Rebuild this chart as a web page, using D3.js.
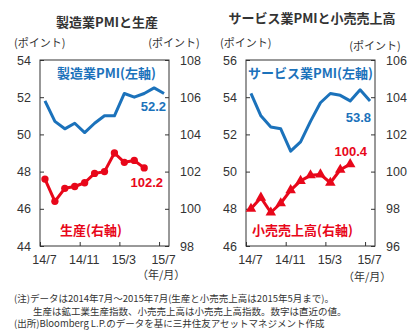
<!DOCTYPE html>
<html>
<head>
<meta charset="utf-8">
<script src="https://cdn.jsdelivr.net/npm/d3@7"></script>
<style>
  body { margin: 0; background: #fff; }
  svg { display: block; }
  text { font-family: "Liberation Sans", "Noto Sans CJK JP", sans-serif; }
  .jp { font-family: "Noto Sans CJK JP", sans-serif; }
</style>
</head>
<body>
<div class="canva"></div>
<script>
// months 14/7 .. 15/7
const months = ["14/7","14/8","14/9","14/10","14/11","14/12","15/1","15/2","15/3","15/4","15/5","15/6","15/7"]
const xTickLabels = ["14/7","14/11","15/3","15/7"]

// left panel
const mfgPMI = [51.8, 50.7, 50.3, 50.6, 50.1, 50.6, 51.0, 51.0, 52.2, 52.0, 52.2, 52.5, 52.2]
const production = [101.6, 100.4, 101.1, 101.2, 101.4, 101.9, 102.0, 103.0, 102.5, 102.6, 102.2]
const leftTicksA = [44, 46, 48, 50, 52, 54]
const rightTicksA = [98, 100, 102, 104, 106, 108]

// right panel
const servicesPMI = [54.2, 53.0, 52.4, 52.3, 51.1, 51.6, 52.7, 53.7, 54.2, 54.1, 53.8, 54.4, 53.8]
const retailSales = [98.0, 98.6, 97.8, 98.3, 99.0, 99.5, 99.8, 99.85, 99.4, 100.1, 100.4]
const leftTicksB = [46, 48, 50, 52, 54, 56]
const rightTicksB = [96, 98, 100, 102, 104, 106]

const notes = [
  "(注)データは2014年7月～2015年7月(生産と小売売上高は2015年5月まで)。",
  "　　生産は鉱工業生産指数、小売売上高は小売売上高指数。数字は直近の値。",
  "(出所)Bloomberg L.P.のデータを基に三井住友アセットマネジメント作成"
]

const blue = "#1b72bb"
const red = "#e8071a"
const grey = "#333"

const svg = d3.select(".canva").append("svg")
  .attr("width", 416).attr("height", 332)

function panel(o) {
  const g = svg.append("g")
  const x = d3.scaleLinear().domain([0, months.length]).range([o.x0, o.x1])
  const yL = d3.scaleLinear().domain([o.lt[0], o.lt[o.lt.length - 1]]).range([246, 60])
  const yR = d3.scaleLinear().domain([o.rt[0], o.rt[o.rt.length - 1]]).range([246, 60])

  // title
  g.append("text").attr("class", "jp").text(o.title)
    .attr("x", o.titleX).attr("y", o.titleY)
    .attr("text-anchor", "middle").attr("font-size", 13).attr("font-weight", "bold")
    .attr("fill", grey)

  // unit labels
  g.append("text").attr("class", "jp").text("(ポイント)")
    .attr("x", o.x0 - 26).attr("y", 47).attr("font-size", 11).attr("fill", grey)
  g.append("text").attr("class", "jp").text("(ポイント)")
    .attr("x", o.x1 + o.unitRx).attr("y", 47 + o.unitDy).attr("text-anchor", "middle")
    .attr("font-size", 11).attr("fill", grey)

  // axes with inward ticks
  const axL = d3.axisLeft(yL).tickValues(o.lt).tickSize(-4).tickPadding(9)
  const axR = d3.axisRight(yR).tickValues(o.rt).tickSize(-4).tickPadding(11)
  const tickIdx = xTickLabels.map(t => months.indexOf(t))
  const axB = d3.axisBottom(x).tickValues(tickIdx).tickSize(-4).tickPadding(9)
    .tickFormat(i => months[i])

  const gl = g.append("g").attr("transform", `translate(${o.x0},0)`).call(axL)
  const gr = g.append("g").attr("transform", `translate(${o.x1},0)`).call(axR)
  const gb = g.append("g").attr("transform", "translate(0,246)").call(axB)
  ;[gl, gr, gb].forEach(a => {
    a.select(".domain").remove()
    a.selectAll("line").attr("stroke", grey)
    a.selectAll("text").attr("font-size", 12.5).attr("fill", grey)
      .attr("font-family", "Liberation Sans, sans-serif")
  })
  gb.selectAll("text").attr("dx", 4)

  g.append("text").attr("class", "jp").text("（年/月）")
    .attr("x", o.x1 - 32).attr("y", o.unitBottomY).attr("font-size", 11).attr("fill", grey)

  // frame
  g.append("rect").attr("x", o.x0).attr("y", 60)
    .attr("width", o.x1 - o.x0).attr("height", 186)
    .attr("fill", "none").attr("stroke", grey).attr("stroke-width", 1)

  // left series
  const lineL = d3.line().x((d, i) => x(i + 0.5)).y(d => yL(d))
  g.append("path").datum(o.left).attr("d", lineL)
    .attr("fill", "none").attr("stroke", blue).attr("stroke-width", 3)
    .attr("stroke-linejoin", "round")

  // right series
  const lineR = d3.line().x((d, i) => x(i + 0.5)).y(d => yR(d))
  g.append("path").datum(o.right).attr("d", lineR)
    .attr("fill", "none").attr("stroke", red).attr("stroke-width", 3)
    .attr("stroke-linejoin", "round")

  g.selectAll(".mk").data(o.right).enter().append("path")
    .attr("transform", (d, i) => `translate(${x(i + 0.5)},${yR(d)})`)
    .attr("d", d3.symbol().type(o.marker).size(o.marker === d3.symbolCircle ? 42 : 48))
    .attr("fill", red)

  // series labels
  g.append("text").attr("class", "jp").text(o.leftName)
    .attr("x", o.leftNameX).attr("y", 78).attr("font-size", 13).attr("font-weight", "bold")
    .attr("fill", blue)
  g.append("text").attr("class", "jp").text(o.rightName)
    .attr("x", o.rightNameX).attr("y", 235).attr("font-size", 13).attr("font-weight", "bold")
    .attr("fill", red)

  // last values
  const lastL = o.left[o.left.length - 1]
  const lastR = o.right[o.right.length - 1]
  g.append("text").text(lastL.toFixed(1))
    .attr("x", o.lastLX).attr("y", o.lastLY).attr("font-size", 13).attr("font-weight", "bold")
    .attr("fill", blue).attr("text-anchor", "end")
  g.append("text").text(lastR.toFixed(1))
    .attr("x", o.lastRX).attr("y", o.lastRY).attr("font-size", 13).attr("font-weight", "bold")
    .attr("fill", red).attr("text-anchor", "end")
}

panel({
  x0: 40, x1: 169, lt: leftTicksA, rt: rightTicksA,
  title: "製造業PMIと生産", titleX: 107, titleY: 27, unitDy: 0, unitRx: 5, unitBottomY: 279,
  left: mfgPMI, right: production, marker: d3.symbolCircle,
  leftName: "製造業PMI(左軸)", leftNameX: 57,
  rightName: "生産(右軸)", rightNameX: 60,
  lastLX: 166, lastLY: 111, lastRX: 163, lastRY: 187
})

panel({
  x0: 246, x1: 375, lt: leftTicksB, rt: rightTicksB,
  title: "サービス業PMIと小売売上高", titleX: 312, titleY: 23, unitDy: 3, unitRx: 0, unitBottomY: 281,
  left: servicesPMI, right: retailSales, marker: d3.symbolTriangle,
  leftName: "サービス業PMI(左軸)", leftNameX: 248,
  rightName: "小売売上高(右軸)", rightNameX: 252,
  lastLX: 371, lastLY: 122, lastRX: 367, lastRY: 156
})

// footnotes
svg.selectAll(".note").data(notes).enter().append("text")
  .attr("class", "jp")
  .attr("x", 14).attr("y", (d, i) => 302 + i * 12.5)
  .attr("font-size", 9.5).attr("fill", grey)
  .text(d => d)
</script>
</body>
</html>
